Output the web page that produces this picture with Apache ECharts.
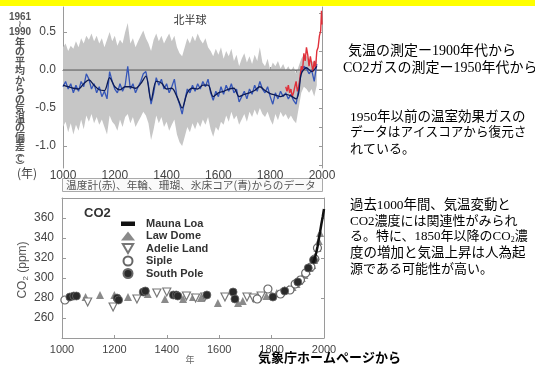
<!DOCTYPE html>
<html>
<head>
<meta charset="utf-8">
<script src="https://cdn.jsdelivr.net/npm/echarts@6.0.0/dist/echarts.min.js"></script>
<style>
  html, body { margin: 0; padding: 0; background: #fff; }
  #chart { width: 535px; height: 367px; }
</style>
</head>
<body>
<div id="chart"></div>
<script>
// ---- northern hemisphere temperature reconstruction (deviation from 1961-1990 mean, °C)
// decades 1000 .. 1980
const decades = [];
for (let y = 1000; y <= 1980; y += 10) decades.push(y);

const bandUpper = [
  0.30, 0.35, 0.25, 0.32, 0.28, 0.38, 0.30, 0.42, 0.35, 0.45,
  0.40, 0.48, 0.38, 0.45, 0.35, 0.42, 0.30, 0.40, 0.50, 0.38,
  0.45, 0.32, 0.40, 0.35, 0.50, 0.62, 0.35, 0.42, 0.30, 0.38,
  0.45, 0.52, 0.42, 0.35, 0.25, 0.40, 0.48, 0.38, 0.45, 0.35,
  0.42, 0.48, 0.38, 0.45, 0.30, 0.22, 0.18, 0.30, 0.42, 0.35,
  0.45, 0.38, 0.48, 0.40, 0.35, 0.42, 0.30, 0.25, 0.18, 0.28,
  0.20, 0.30, 0.15, 0.25, 0.18, 0.28, 0.12, 0.20, 0.05, 0.15,
  0.22, 0.10, 0.18, 0.08, 0.20, 0.12, 0.30, 0.10, 0.05, 0.15,
  0.00, 0.10, 0.05, 0.12, 0.02, 0.08, 0.00, 0.05, -0.02, 0.05,
  -0.05, 0.05, 0.15, 0.20, 0.18, 0.15, 0.12, 0.10, 0.15
];
const bandLower = [
  -0.75, -0.68, -0.82, -0.70, -0.85, -0.72, -0.80, -0.65, -0.78, -0.60,
  -0.68, -0.58, -0.70, -0.62, -0.72, -0.65, -0.75, -0.85, -0.60, -0.68,
  -0.72, -0.80, -0.65, -0.75, -0.62, -0.58, -0.70, -0.62, -0.75, -0.68,
  -0.62, -0.55, -0.60, -0.70, -0.92, -0.78, -0.60, -0.70, -0.62, -0.75,
  -0.68, -0.80, -0.72, -0.65, -0.85, -0.95, -1.00, -0.88, -0.75, -0.82,
  -0.70, -0.78, -0.68, -0.75, -0.65, -0.72, -0.62, -0.78, -0.88, -0.75,
  -0.80, -0.68, -0.72, -0.60, -0.68, -0.55, -0.65, -0.60, -0.72, -0.65,
  -0.58, -0.68, -0.55, -0.62, -0.52, -0.60, -0.50, -0.58, -0.62, -0.55,
  -0.65, -0.72, -0.58, -0.66, -0.55, -0.62, -0.58, -0.65, -0.60, -0.66,
  -0.70, -0.50, -0.30, -0.22, -0.25, -0.30, -0.25, -0.35, -0.20
];
const proxyTemp = [
  -0.22, -0.15, -0.25, -0.18, -0.30, -0.20, -0.28, -0.15, -0.22, -0.05,
  -0.12, -0.25, -0.18, -0.30, -0.22, -0.35, -0.28, -0.38, -0.02, -0.15,
  -0.25, -0.30, -0.18, -0.28, -0.20, 0.05, -0.25, -0.18, -0.30, -0.22,
  -0.15, -0.05, -0.02, -0.20, -0.45, -0.30, -0.10, -0.20, -0.12, -0.25,
  -0.18, -0.30, -0.22, -0.12, -0.35, -0.45, -0.58, -0.40, -0.25, -0.30,
  -0.20, -0.28, -0.18, -0.25, -0.15, -0.22, -0.12, -0.30, -0.40, -0.28,
  -0.35, -0.22, -0.32, -0.20, -0.28, -0.18, -0.30, -0.25, -0.42, -0.35,
  -0.28, -0.38, -0.25, -0.32, -0.20, -0.28, -0.15, -0.25, -0.30, -0.22,
  -0.35, -0.45, -0.30, -0.38, -0.28, -0.35, -0.30, -0.38, -0.32, -0.40,
  -0.45, -0.25, -0.02, 0.05, 0.02, -0.05, 0.00, -0.15, 0.08
];
const smoothYears = [1000, 1020, 1040, 1060, 1080, 1100, 1120, 1140, 1160, 1180,
  1200, 1220, 1240, 1260, 1280, 1300, 1320, 1340, 1360, 1380, 1400, 1420, 1440,
  1460, 1480, 1500, 1520, 1540, 1560, 1580, 1600, 1620, 1640, 1660, 1680, 1700,
  1720, 1740, 1760, 1780, 1800, 1820, 1840, 1860, 1880, 1900, 1910, 1920, 1940,
  1960, 1980];
const smoothTemp = [-0.20, -0.22, -0.24, -0.25, -0.18, -0.13, -0.20, -0.26, -0.27,
  -0.10, -0.22, -0.26, -0.22, -0.22, -0.24, -0.18, -0.08, -0.40, -0.15, -0.17,
  -0.25, -0.24, -0.35, -0.50, -0.30, -0.24, -0.25, -0.20, -0.20, -0.35, -0.30,
  -0.28, -0.25, -0.24, -0.35, -0.32, -0.30, -0.27, -0.22, -0.27, -0.31, -0.33,
  -0.35, -0.32, -0.34, -0.38, -0.30, -0.05, 0.03, -0.02, 0.05];
const instYears = [1860, 1865, 1870, 1875, 1880, 1885, 1890, 1895, 1900, 1905,
  1910, 1915, 1920, 1925, 1930, 1935, 1940, 1945, 1950, 1955, 1960, 1965, 1970,
  1975, 1980, 1985, 1990, 1995, 1998, 2000];
const instTemp = [-0.22, -0.28, -0.20, -0.30, -0.25, -0.35, -0.30, -0.22, -0.15,
  -0.28, -0.22, -0.10, 0.05, 0.00, 0.22, 0.12, 0.30, 0.20, 0.05, 0.18, 0.08,
  -0.02, 0.12, 0.02, 0.25, 0.30, 0.45, 0.52, 0.78, 0.60];
const tempLabels = [-1.0, -0.5, 0.0, 0.5];

// ---- CO2 (ppm)
const maunaLoa = [[1958, 315], [1965, 320], [1970, 325], [1975, 331], [1980, 339],
  [1985, 346], [1990, 354], [1995, 361], [2000, 369]];
const lawDome = [[1090, 281], [1145, 283], [1200, 283], [1252, 281], [1327, 284],
  [1393, 279], [1462, 279], [1500, 281], [1530, 280], [1595, 275], [1672, 275],
  [1690, 277], [1740, 280], [1780, 282], [1800, 283], [1820, 285], [1835, 286],
  [1850, 288], [1865, 289], [1880, 291], [1895, 294], [1905, 297], [1915, 300],
  [1925, 303], [1935, 307], [1945, 310], [1955, 313], [1962, 318], [1968, 322],
  [1975, 330], [1980, 337], [1985, 345]];
const adelieLand = [[1098, 276], [1195, 271], [1286, 279], [1362, 285], [1400, 286],
  [1475, 282], [1510, 280], [1545, 281], [1622, 281], [1706, 281], [1730, 280],
  [1760, 282]];
const siple = [[1011, 278], [1745, 279], [1786, 289], [1834, 284], [1870, 288],
  [1890, 294], [1910, 298], [1930, 305], [1950, 311], [1965, 319], [1975, 330]];
const southPole = [[1030, 281], [1045, 282], [1055, 282], [1210, 280], [1216, 278],
  [1310, 286], [1318, 287], [1425, 283], [1436, 283], [1442, 282], [1553, 283],
  [1653, 286], [1660, 279], [1805, 281], [1850, 287], [1900, 296], [1940, 310],
  [1960, 318]];
const co2Labels = [260, 280, 300, 320, 340, 360];

const frame = '#9a9a9a';
const labelColor = '#444';
const sans = 'Liberation Sans, Arial, sans-serif';
const jp = '"Noto Sans CJK JP", sans-serif';
const mixed = '"Liberation Serif", "Noto Sans CJK JP", serif';

const chart = echarts.init(document.getElementById('chart'));

function bottomAxis(grid, fontSize, margin) {
  return {
    type: 'value', gridIndex: grid, min: 1000, max: 2000, interval: 200,
    axisLine: { lineStyle: { color: frame } },
    axisTick: { inside: true, length: 3, lineStyle: { color: frame } },
    axisLabel: { color: labelColor, fontSize: fontSize, fontFamily: sans, margin: margin,
      formatter: v => String(v) },
    splitLine: { show: false }
  };
}
function frameAxis(grid, pos, min, max, ticks) {
  return {
    type: 'value', gridIndex: grid, position: pos, min: min, max: max,
    axisLine: { show: true, lineStyle: { color: frame } },
    axisTick: ticks ? { inside: true, length: 3, customValues: ticks, lineStyle: { color: frame } } : { show: false },
    axisLabel: { show: false },
    splitLine: { show: false }
  };
}

const textEl = (text, x, y, font, fill, extra) => ({
  type: 'text', silent: true,
  style: Object.assign({ text: text, x: x, y: y, font: font, fill: fill,
    textAlign: 'left', textVerticalAlign: 'middle' }, extra || {})
});
const note = (text, x, y, size, extra) => textEl(text, x, y, size + 'px ' + mixed, '#000', extra);

const axisTitle = ['年', 'の', '平', '均', 'か', 'ら', 'の', '気', '温', 'の', '偏', '差'];
const subRich = { s: { font: '8px ' + mixed, fill: '#000', verticalAlign: 'bottom', padding: [6, 0, 0, 0] } };
// a short thick dash for the Mauna Loa legend entry
const dashIcon = 'path://M0,0h0.1v0.1h-0.1zM0,2.5h14v4.5h-14zM13.9,8.9h0.1v0.1h-0.1z';

const option = {
  animation: false,
  backgroundColor: '#fff',
  grid: [
    { left: 63, top: 7, width: 259, height: 161 },
    { left: 62, top: 198, width: 262, height: 140 }
  ],
  xAxis: [
    bottomAxis(0, 12, 2),
    frameAxis(0, 'top', 1000, 2000, [1000, 1050, 1100, 1150, 1200, 1250, 1300, 1350, 1400, 1450, 1500, 1550, 1600, 1650, 1700, 1750, 1800, 1850, 1900, 1950, 2000]),
    bottomAxis(1, 11, 6),
    frameAxis(1, 'top', 1000, 2000, null)
  ],
  yAxis: [
    {
      type: 'value', gridIndex: 0, min: -1.29, max: 0.83,
      axisLine: { show: true, lineStyle: { color: frame } },
      axisTick: { inside: true, length: 4, customValues: tempLabels, lineStyle: { color: frame } },
      axisLabel: { customValues: tempLabels, color: labelColor, fontSize: 12, fontFamily: sans, margin: 7,
        formatter: v => Number(v).toFixed(1) },
      splitLine: { show: false }
    },
    frameAxis(0, 'right', -1.29, 0.83, [-1.25, -1.0, -0.75, -0.5, -0.25, 0, 0.25, 0.5, 0.75]),
    {
      type: 'value', gridIndex: 1, min: 240, max: 380,
      axisLine: { show: true, lineStyle: { color: frame } },
      axisTick: { inside: true, length: 4, customValues: co2Labels, lineStyle: { color: frame } },
      axisLabel: { customValues: co2Labels, color: labelColor, fontSize: 12, fontFamily: sans, margin: 8 },
      splitLine: { show: false }
    },
    frameAxis(1, 'right', 240, 380, [280, 320, 360])
  ],
  legend: {
    orient: 'vertical', left: 121, top: 218, padding: 0, itemWidth: 14, itemHeight: 9, itemGap: 1.5,
    data: [{ name: 'Mauna Loa', icon: dashIcon }, 'Law Dome', 'Adelie Land', 'Siple', 'South Pole'],
    textStyle: { color: '#333', fontSize: 11, fontWeight: 'bold', fontFamily: sans, lineHeight: 9,
      padding: [0, 0, 0, 6] }
  },
  series: [
    {
      type: 'custom', xAxisIndex: 0, yAxisIndex: 0, silent: true, z: 1,
      data: decades.map((y, i) => [y, bandUpper[i], bandLower[i]]),
      encode: { x: 0, y: [1, 2] },
      renderItem: (params, api) => {
        if (params.dataIndex !== 0) return null;
        const pts = decades.map((y, i) => api.coord([y, bandUpper[i]]));
        for (let i = decades.length - 1; i >= 0; i--) pts.push(api.coord([decades[i], bandLower[i]]));
        return { type: 'polygon', shape: { points: pts }, style: { fill: '#c6c6c6' } };
      }
    },
    {
      type: 'line', xAxisIndex: 0, yAxisIndex: 0, silent: true, z: 2, symbol: 'none',
      data: [[1000, 0], [2000, 0]], lineStyle: { color: '#555', width: 1 }
    },
    {
      type: 'line', xAxisIndex: 0, yAxisIndex: 0, silent: true, z: 3, symbol: 'none',
      data: decades.map((y, i) => [y, proxyTemp[i]]), lineStyle: { color: '#3556b8', width: 1.3 }
    },
    {
      type: 'line', xAxisIndex: 0, yAxisIndex: 0, silent: true, z: 4, symbol: 'none',
      data: instYears.map((y, i) => [y, instTemp[i]]), lineStyle: { color: '#e0303a', width: 1.4 }
    },
    {
      type: 'line', xAxisIndex: 0, yAxisIndex: 0, silent: true, z: 5, symbol: 'none', smooth: 0.3,
      data: smoothYears.map((y, i) => [y, smoothTemp[i]]), lineStyle: { color: '#0c1a55', width: 1.3 }
    },
    {
      name: 'Law Dome', type: 'scatter', xAxisIndex: 2, yAxisIndex: 2, z: 3,
      symbol: 'triangle', symbolSize: 8, data: lawDome,
      itemStyle: { color: '#8a8a8a', opacity: 1 }
    },
    {
      name: 'Adelie Land', type: 'scatter', xAxisIndex: 2, yAxisIndex: 2, z: 3,
      symbol: 'path://M0,0L10,0L5,8.66Z', symbolSize: 8, data: adelieLand,
      itemStyle: { color: '#fff', borderColor: '#777', borderWidth: 1.2, opacity: 1 }
    },
    {
      name: 'Siple', type: 'scatter', xAxisIndex: 2, yAxisIndex: 2, z: 3,
      symbol: 'circle', symbolSize: 8, data: siple,
      itemStyle: { color: '#fff', borderColor: '#666', borderWidth: 1.2, opacity: 1 }
    },
    {
      name: 'South Pole', type: 'scatter', xAxisIndex: 2, yAxisIndex: 2, z: 4,
      symbol: 'circle', symbolSize: 8, data: southPole,
      itemStyle: { color: '#2a2a2a', borderColor: '#666', borderWidth: 0.8, opacity: 1 }
    },
    {
      name: 'Mauna Loa', type: 'line', xAxisIndex: 2, yAxisIndex: 2, z: 5,
      symbol: 'none', data: maunaLoa, lineStyle: { color: '#111', width: 2.5 },
      itemStyle: { color: '#111' }
    }
  ],
  graphic: [
    { type: 'rect', silent: true, shape: { x: 0, y: 0, width: 535, height: 6 }, style: { fill: '#ffff00' } },
    // top chart labels
    textEl('北半球', 190, 20, '11px ' + jp, '#333', { textAlign: 'center' }),
    textEl('(年)', 37, 173, '12px ' + jp, labelColor, { textAlign: 'right' }),
    textEl('1961', 20, 17, 'bold 10px ' + sans, '#555', { textAlign: 'center' }),
    textEl('≀', 20, 25, 'bold 9px "DejaVu Sans", sans-serif', '#555', { textAlign: 'center' }),
    textEl('1990', 20, 32, 'bold 10px ' + sans, '#555', { textAlign: 'center' }),
    textEl(axisTitle.join('\n'), 20, 37, 'bold 10px ' + jp, '#555',
      { textAlign: 'center', textVerticalAlign: 'top', lineHeight: 9.5 }),
    textEl('︵\nC\n︶', 20, 149, 'bold 9px ' + jp, '#555',
      { textAlign: 'center', textVerticalAlign: 'top', lineHeight: 6.5 }),
    // caption box
    { type: 'rect', silent: true, shape: { x: 62.5, y: 178.5, width: 260, height: 13 },
      style: { fill: '#fafafa', stroke: '#aaa', lineWidth: 1 } },
    textEl('温度計(赤)、年輪、珊瑚、氷床コア(青)からのデータ', 66, 185, '10.7px ' + jp, '#555'),
    // bottom chart labels
    textEl('CO2', 84, 213, 'bold 13px ' + sans, '#333'),
    {
      type: 'text', silent: true, x: 23, y: 270, rotation: Math.PI / 2,
      style: { text: 'CO{s|2} (ppm)', font: '12px ' + sans, fill: '#555',
        textAlign: 'center', textVerticalAlign: 'middle',
        rich: { s: { fontSize: 8, fontFamily: sans, fill: '#555', verticalAlign: 'bottom', padding: [6, 0, 0, 0] } } }
    },
    textEl('年', 190, 360, '9px ' + jp, '#666', { textAlign: 'center' }),
    textEl('気象庁ホームページから', 258, 357, 'bold 13px ' + jp, '#000'),
    // right-hand notes
    note('気温の測定ー1900年代から', 348, 51, 14),
    note('CO2ガスの測定ー1950年代から', 343, 68, 14),
    note('1950年以前の温室効果ガスの', 350, 117, 13.5),
    note('データはアイスコアから復元さ', 350, 133, 12.6),
    note('れている。', 350, 150, 13),
    note('過去1000年間、気温変動と', 350, 205, 13.4),
    note('CO2濃度には関連性がみられ', 350, 222, 13),
    note('る。特に、1850年以降のCO{s|2}濃', 350, 237, 13, { rich: subRich }),
    note('度の増加と気温上昇は人為起', 350, 253, 13.5),
    note('源である可能性が高い。', 350, 270, 13)
  ]
};

chart.setOption(option);
</script>
</body>
</html>
